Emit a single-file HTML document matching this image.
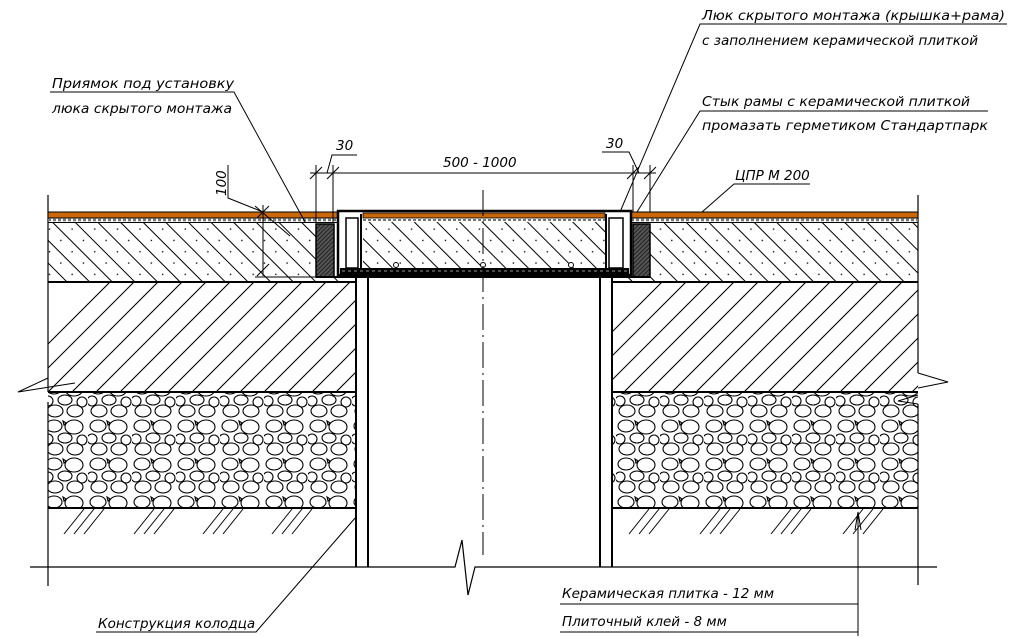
<!DOCTYPE html>
<html><head><meta charset="utf-8"><style>
html,body{margin:0;padding:0;background:#fff;}
svg{display:block;}
text{font-family:"DejaVu Sans","Liberation Sans",sans-serif;font-style:italic;font-size:13.5px;fill:#000;}
</style></head><body>
<svg width="1024" height="638" viewBox="0 0 1024 638" xmlns="http://www.w3.org/2000/svg">
<defs>
<pattern id="hb" patternUnits="userSpaceOnUse" width="16" height="16" patternTransform="rotate(-45)">
<line x1="8" y1="-1" x2="8" y2="17" stroke="#000" stroke-width="1"/>
<circle cx="1" cy="5" r="0.8" fill="#000"/>
</pattern>
<pattern id="dk" patternUnits="userSpaceOnUse" width="3" height="3" patternTransform="rotate(45)">
<rect width="3" height="3" fill="#555"/>
<line x1="1.5" y1="0" x2="1.5" y2="3" stroke="#222" stroke-width="1"/>
</pattern>
<pattern id="gr" patternUnits="userSpaceOnUse" width="44" height="38">
<g fill="none" stroke="#000" stroke-width="1.1">
<ellipse cx="10" cy="8" rx="8" ry="6"/>
<ellipse cx="30" cy="9" rx="9" ry="7"/>
<ellipse cx="21" cy="20" rx="7" ry="5"/>
<ellipse cx="4" cy="21" rx="5" ry="5"/>
<ellipse cx="38" cy="22" rx="5" ry="5"/>
<ellipse cx="11" cy="31" rx="8" ry="6"/>
<ellipse cx="31" cy="31" rx="8" ry="6"/>
<path d="M19 3 l3 2 l-2 2z"/>
</g>
</pattern>
<clipPath id="l2">
<rect x="48" y="283" width="307" height="109"/>
<rect x="613" y="283" width="305" height="109"/>
</clipPath>
</defs>

<line x1="48" y1="195" x2="48" y2="392" stroke="#000" stroke-width="1.2"/>
<line x1="48" y1="402" x2="48" y2="586" stroke="#000" stroke-width="1.2"/>
<line x1="918" y1="195" x2="918" y2="373" stroke="#000" stroke-width="1.2"/>
<line x1="918" y1="404" x2="918" y2="585" stroke="#000" stroke-width="1.2"/>

<rect x="48" y="222" width="268" height="60" fill="url(#hb)"/>
<rect x="650" y="222" width="268" height="60" fill="url(#hb)"/>
<rect x="316" y="276" width="40" height="6" fill="url(#hb)"/>
<rect x="612" y="276" width="38" height="6" fill="url(#hb)"/>
<rect x="48" y="212" width="290" height="6" fill="#c8680a" stroke="#000" stroke-width="1"/>
<rect x="631" y="212" width="287" height="6" fill="#c8680a" stroke="#000" stroke-width="1"/>
<line x1="48" y1="220" x2="338" y2="220" stroke="#777" stroke-width="2.5" stroke-dasharray="3 2"/>
<line x1="631" y1="220" x2="918" y2="220" stroke="#777" stroke-width="2.5" stroke-dasharray="3 2"/>
<line x1="48" y1="222.5" x2="338" y2="222.5" stroke="#000"/>
<line x1="631" y1="222.5" x2="918" y2="222.5" stroke="#000"/>
<line x1="48" y1="282" x2="356" y2="282" stroke="#000" stroke-width="2"/>
<line x1="612" y1="282" x2="918" y2="282" stroke="#000" stroke-width="2"/>

<rect x="316" y="224" width="18" height="53" fill="url(#dk)" stroke="#000" stroke-width="1.5"/>
<rect x="633" y="224" width="17" height="53" fill="url(#dk)" stroke="#000" stroke-width="1.5"/>
<line x1="316" y1="277" x2="650" y2="277" stroke="#000" stroke-width="2"/>

<rect x="338" y="211" width="293" height="64" fill="#fff" stroke="#000" stroke-width="2.5"/>
<rect x="363" y="222" width="242" height="46" fill="url(#hb)"/>
<rect x="363" y="213" width="242" height="5" fill="#c8680a" stroke="#000" stroke-width="0.8"/>
<line x1="363" y1="220" x2="605" y2="220" stroke="#777" stroke-width="2" stroke-dasharray="3 2"/>
<rect x="346" y="218" width="12" height="50" fill="#fff" stroke="#000" stroke-width="1.5"/>
<rect x="609" y="218" width="14" height="50" fill="#fff" stroke="#000" stroke-width="1.5"/>
<line x1="361" y1="214" x2="361" y2="269" stroke="#000" stroke-width="2"/>
<line x1="606" y1="214" x2="606" y2="269" stroke="#000" stroke-width="2"/>
<rect x="340" y="268" width="289" height="6" fill="#000"/>
<line x1="342" y1="271" x2="627" y2="271" stroke="#999" stroke-width="1" stroke-dasharray="3 3"/>
<circle cx="396" cy="265" r="2.5" fill="#fff" stroke="#000"/>
<circle cx="483" cy="265" r="2.5" fill="#fff" stroke="#000"/>
<circle cx="571" cy="265" r="2.5" fill="#fff" stroke="#000"/>

<g clip-path="url(#l2)">
<path stroke="#000" stroke-width="1.1" fill="none" d="M0 392 l110 -110 M24 392 l110 -110 M48 392 l110 -110 M72 392 l110 -110 M96 392 l110 -110 M120 392 l110 -110 M144 392 l110 -110 M168 392 l110 -110 M192 392 l110 -110 M216 392 l110 -110 M240 392 l110 -110 M264 392 l110 -110 M288 392 l110 -110 M312 392 l110 -110 M336 392 l110 -110 M552 392 l110 -110 M576 392 l110 -110 M600 392 l110 -110 M624 392 l110 -110 M648 392 l110 -110 M672 392 l110 -110 M696 392 l110 -110 M720 392 l110 -110 M744 392 l110 -110 M768 392 l110 -110 M792 392 l110 -110 M816 392 l110 -110 M840 392 l110 -110 M864 392 l110 -110 M888 392 l110 -110 M912 392 l110 -110"/>
</g>
<line x1="48" y1="392" x2="356" y2="392" stroke="#000" stroke-width="2"/>
<line x1="612" y1="392" x2="918" y2="392" stroke="#000" stroke-width="2"/>

<rect x="48" y="393" width="307" height="115" fill="url(#gr)"/>
<rect x="613" y="393" width="305" height="115" fill="url(#gr)"/>
<line x1="48" y1="508" x2="356" y2="508" stroke="#000" stroke-width="2"/>
<line x1="612" y1="508" x2="918" y2="508" stroke="#000" stroke-width="2"/>

<g stroke="#000" stroke-width="1">
<path d="M64 534 l20 -25 M74 534 l20 -25 M84 534 l20 -25"/>
<path d="M134 534 l20 -25 M144 534 l20 -25 M154 534 l20 -25"/>
<path d="M203 534 l20 -25 M213 534 l20 -25 M223 534 l20 -25"/>
<path d="M272 534 l20 -25 M282 534 l20 -25 M292 534 l20 -25"/>
<path d="M629 534 l20 -25 M639 534 l20 -25 M649 534 l20 -25"/>
<path d="M700 534 l20 -25 M710 534 l20 -25 M720 534 l20 -25"/>
<path d="M771 534 l20 -25 M781 534 l20 -25 M791 534 l20 -25"/>
<path d="M843 534 l20 -25 M853 534 l20 -25 M863 534 l20 -25"/>
</g>

<g stroke="#000" stroke-width="2">
<line x1="356" y1="277" x2="356" y2="567"/>
<line x1="368" y1="277" x2="368" y2="567"/>
<line x1="600" y1="277" x2="600" y2="567"/>
<line x1="612" y1="277" x2="612" y2="567"/>
</g>

<path d="M30 567 H455 L462 540 L468 595 L475 567 H937" fill="none" stroke="#000" stroke-width="1.2"/>
<line x1="483" y1="190" x2="483" y2="555" stroke="#000" stroke-width="1" stroke-dasharray="26 5 2 5"/>

<path d="M48 378 L18 392 L75 383" fill="none" stroke="#000" stroke-width="1"/>
<path d="M918 373 L948 382 L918 388" fill="none" stroke="#000" stroke-width="1"/>
<path d="M918 395 L898 401 L918 404" fill="none" stroke="#000" stroke-width="1"/>

<g stroke="#000" stroke-width="1" fill="none">
<line x1="316" y1="165" x2="316" y2="222"/>
<line x1="333" y1="165" x2="333" y2="222"/>
<line x1="633" y1="165" x2="633" y2="212"/>
<line x1="650" y1="165" x2="650" y2="212"/>
<line x1="310" y1="173" x2="656" y2="173"/>
<path d="M310 179 l12 -12 M327 179 l12 -12 M627 179 l12 -12 M644 179 l12 -12"/>
<path d="M327 173 l5 -18 h25"/>
<path d="M602 152 h27 l10 21"/>
<line x1="263" y1="205" x2="263" y2="276"/>
<line x1="255" y1="277" x2="316" y2="277"/>
<path d="M257 218 l12 -12 M257 276 l12 -12"/>
<path d="M228 165 v33 l35 14"/>
<line x1="255" y1="206" x2="290" y2="236"/>
</g>
<text x="336" y="150">30</text>
<text x="606" y="148">30</text>
<text x="443" y="167">500 - 1000</text>
<text transform="translate(226,196) rotate(-90)" font-size="12">100</text>

<g stroke="#000" stroke-width="1" fill="none">
<path d="M50 92 H234 L305 222"/>
<path d="M1007 24 H700 L620 212"/>
<path d="M988 111 H700 L637 212"/>
<path d="M810 184 H734 L702 212"/>
<path d="M96 632 H256 L356 517"/>
<path d="M560 604 H858 M560 632 H858"/>
<path d="M858 514 V636"/>
<path d="M855 530 l3 -18 l3 18"/>
</g>
<text x="52" y="88" textLength="182" lengthAdjust="spacingAndGlyphs">Приямок под установку</text>
<text x="52" y="113" textLength="180" lengthAdjust="spacingAndGlyphs">люка скрытого монтажа</text>
<text x="702" y="20" textLength="303" lengthAdjust="spacingAndGlyphs">Люк скрытого монтажа  (крышка+рама)</text>
<text x="702" y="45" textLength="276" lengthAdjust="spacingAndGlyphs">с заполнением керамической плиткой</text>
<text x="702" y="106" textLength="268" lengthAdjust="spacingAndGlyphs">Стык рамы с керамической плиткой</text>
<text x="702" y="130" textLength="286" lengthAdjust="spacingAndGlyphs">промазать герметиком Стандартпарк</text>
<text x="735" y="180">ЦПР М 200</text>
<text x="98" y="628">Конструкция колодца</text>
<text x="562" y="598">Керамическая плитка  - 12 мм</text>
<text x="562" y="626">Плиточный клей  - 8 мм</text>
</svg>
</body></html>
